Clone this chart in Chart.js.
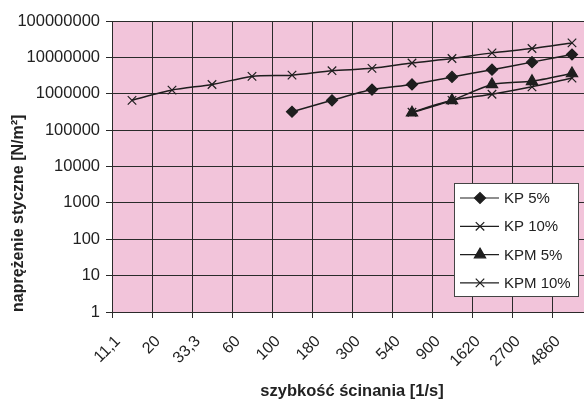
<!DOCTYPE html>
<html>
<head>
<meta charset="utf-8">
<script src="https://cdn.jsdelivr.net/npm/chart.js@4.4.0/dist/chart.umd.min.js"></script>
<style>
  html, body { margin: 0; padding: 0; overflow: hidden; background: #fff; }
  #wrap { width: 600px; height: 401px; }
</style>
</head>
<body>
<div id="wrap"><canvas id="chart" width="600" height="401"></canvas></div>
<script>
// shear rate categories [1/s]
var categories = ["11,1", "20", "33,3", "60", "100", "180", "300", "540", "900", "1620", "2700", "4860"];

// shear stress [N/m2]
var kp5 = [null, null, null, null, 320000, 660000, 1300000, 1800000, 2900000, 4600000, 7400000, 12000000];
var kp10 = [660000, 1260000, 1800000, 3000000, 3250000, 4300000, 5000000, 7000000, 9300000, 13300000, 17500000, 25000000];
var kpm5 = [null, null, null, null, null, null, null, 300000, 660000, 1800000, 2200000, 3600000];
var kpm10 = [null, null, null, null, null, null, null, 310000, 660000, 970000, 1550000, 2700000];

var yTicks = [1, 10, 100, 1000, 10000, 100000, 1000000, 10000000, 100000000];

var INK = "#1e1e1e";
var FONT = 'Arial, "Liberation Sans", sans-serif';

Chart.defaults.font.family = FONT;
Chart.defaults.color = "#222";

var plotBackground = {
    id: "plotBackground",
    beforeDraw: function (chart) {
        var a = chart.chartArea, ctx = chart.ctx;
        ctx.save();
        ctx.fillStyle = "#f2c4da";
        ctx.fillRect(a.left, a.top, a.right - a.left, a.bottom - a.top);
        ctx.restore();
    },
};

function marker(ctx, ds, x, y) {
    var opts = {
        pointStyle: ds.pointStyle,
        radius: ds.pointRadius,
        borderWidth: ds.pointBorderWidth,
        rotation: 0,
    };
    ctx.fillStyle = ds.pointBackgroundColor;
    ctx.strokeStyle = ds.pointBorderColor;
    ctx.lineWidth = ds.pointBorderWidth;
    Chart.helpers.drawPoint(ctx, opts, x, y);
}

var boxLegend = {
    id: "boxLegend",
    afterDatasetsDraw: function (chart) {
        var a = chart.chartArea, ctx = chart.ctx;
        var x = a.right - 138, y = a.top + 162, w = 124, h = 113;
        ctx.save();
        ctx.fillStyle = "#fff";
        ctx.fillRect(x, y, w, h);
        ctx.strokeStyle = "#444";
        ctx.lineWidth = 1;
        ctx.strokeRect(x + 0.5, y + 0.5, w, h);
        chart.data.datasets.forEach(function (ds, i) {
            var ly = y + 15 + i * 28.3;
            ctx.strokeStyle = INK;
            ctx.lineWidth = 1.2;
            ctx.beginPath();
            ctx.moveTo(x + 6, ly);
            ctx.lineTo(x + 45, ly);
            ctx.stroke();
            marker(ctx, ds, x + 26, ly);
            ctx.fillStyle = "#222";
            ctx.font = "15px " + FONT;
            ctx.textBaseline = "middle";
            ctx.textAlign = "left";
            ctx.fillText(ds.label, x + 50, ly + 1);
        });
        ctx.restore();
    },
};

function series(label, data, style, radius) {
    return {
        label: label,
        data: data,
        borderColor: INK,
        borderWidth: 1.5,
        backgroundColor: INK,
        pointStyle: style,
        pointRadius: radius,
        pointHoverRadius: radius,
        pointBackgroundColor: INK,
        pointBorderColor: INK,
        pointBorderWidth: 1.2,
        tension: 0.25,
        fill: false,
    };
}

new Chart(document.getElementById("chart"), {
    type: "line",
    data: {
        labels: categories,
        datasets: [
            series("KP 5%", kp5, "rectRot", 5.5),
            series("KP 10%", kp10, "crossRot", 6),
            series("KPM 5%", kpm5, "triangle", 6.5),
            series("KPM 10%", kpm10, "crossRot", 6),
        ],
    },
    options: {
        responsive: false,
        animation: false,
        layout: { padding: { top: 21, right: 8, bottom: 0, left: 0 } },
        plugins: {
            legend: { display: false },
            tooltip: { enabled: false },
        },
        scales: {
            x: {
                offset: true,
                grid: { offset: true, color: "#2a2a2a", lineWidth: 1, tickLength: 6 },
                border: { color: "#2a2a2a" },
                ticks: {
                    autoSkip: false,
                    minRotation: 45,
                    maxRotation: 45,
                    labelOffset: -14,
                    padding: 14,
                    font: { size: 16 },
                    color: "#222",
                },
                title: {
                    display: true,
                    text: "szybkość ścinania [1/s]",
                    font: { size: 16.5, weight: "bold" },
                    color: "#222",
                    padding: { top: 0, bottom: 0 },
                },
                afterFit: function (scale) {
                    scale.height = 89;
                },
            },
            y: {
                type: "logarithmic",
                min: 1,
                max: 100000000,
                grid: { color: "#2a2a2a", lineWidth: 1, tickLength: 6 },
                border: { color: "#2a2a2a" },
                afterBuildTicks: function (scale) {
                    scale.ticks = yTicks.map(function (v) { return { value: v }; });
                },
                ticks: {
                    padding: 6,
                    font: { size: 16.5 },
                    color: "#222",
                    callback: function (v) { return String(v); },
                },
                title: {
                    display: true,
                    text: "naprężenie styczne [N/m²]",
                    align: "start",
                    font: { size: 16, weight: "bold" },
                    color: "#222",
                    padding: { top: 9, bottom: 0 },
                },
                afterFit: function (scale) {
                    scale.width = 112;
                },
            },
        },
    },
    plugins: [plotBackground, boxLegend],
});
</script>
</body>
</html>
